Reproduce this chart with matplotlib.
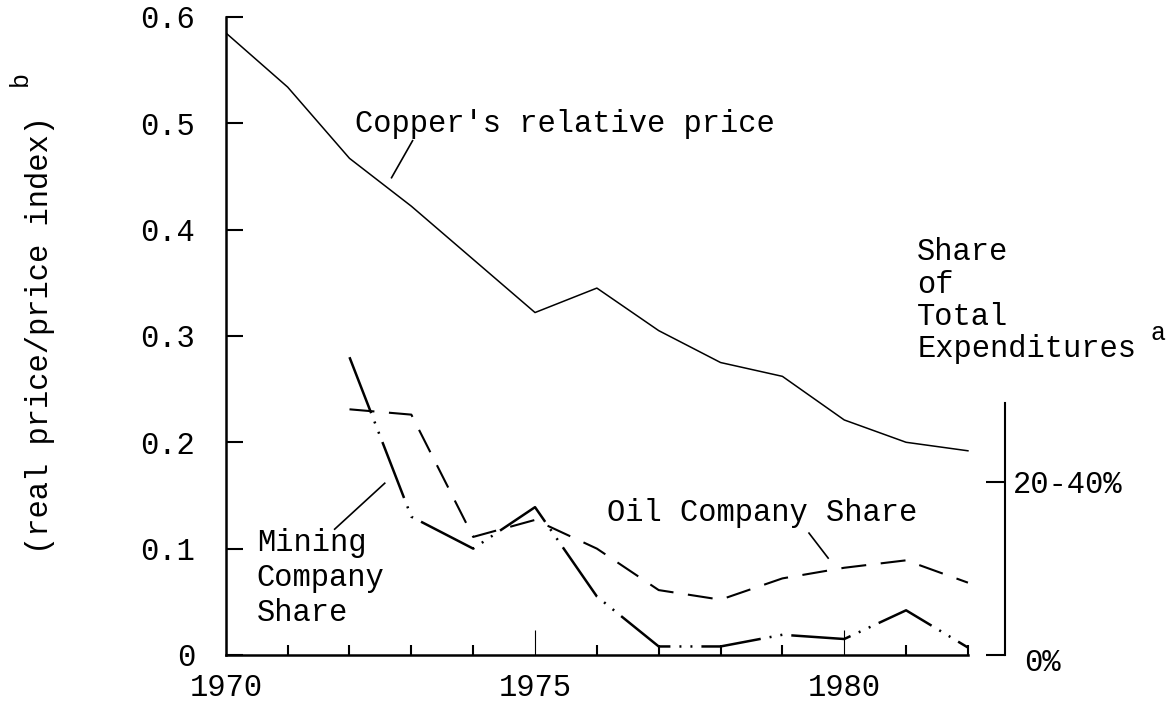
import numpy as np
import matplotlib
matplotlib.use('Agg')
import matplotlib.pyplot as plt

# values
years = np.arange(1970, 1983)
copper = [0.585, 0.534, 0.467, 0.422, 0.372, 0.322, 0.345, 0.305, 0.275, 0.262, 0.221, 0.200, 0.192]

share_years = np.arange(1972, 1983)
mining = [0.280, 0.130, 0.100, 0.139, 0.055, 0.008, 0.008, 0.019, 0.015, 0.042, 0.007]
oil = [0.231, 0.226, 0.111, 0.127, 0.100, 0.061, 0.052, 0.072, 0.082, 0.089, 0.068]

share_ticks = [0, 0.163]
share_labels = ['', '20-40%']

plt.rcParams['font.family'] = ['Liberation Mono', 'DejaVu Sans Mono']
fs = 22

fig = plt.figure(figsize=(11.7, 7.02), dpi=100)
ax = fig.add_axes([0.193, 0.067, 0.666, 0.918])

ax.plot(years, copper, color='black', lw=1.1)
ax.plot(share_years, oil, color='black', lw=1.5, linestyle=(0, (12, 7)))
ax.plot(share_years, mining, color='black', lw=1.8,
        linestyle=(0, (24, 3.6, 0.8, 3.6, 0.8, 3.6)))

ax.set_xlim(1970, 1982.6)
ax.set_ylim(0, 0.606)

ax.spines['top'].set_visible(False)
ax.spines['right'].set_visible(False)
ax.spines['left'].set_linewidth(1.8)
ax.spines['bottom'].set_linewidth(1.8)
ax.spines['left'].set_bounds(0, 0.6)
ax.spines['bottom'].set_bounds(1970, 1982)

ax.set_yticks([0, 0.1, 0.2, 0.3, 0.4, 0.5, 0.6])
ax.set_yticklabels(['0', '0.1', '0.2', '0.3', '0.4', '0.5', '0.6'])
ax.tick_params(axis='y', direction='in', length=12, width=1.5, pad=22, labelsize=fs)
ax.yaxis.get_major_ticks()[0].tick1line.set_visible(False)

ax.set_xticks([1970, 1975, 1980])
ax.set_xticklabels(['1970', '1975', '1980'])
ax.set_xticks(years, minor=True)
ax.tick_params(axis='x', which='major', direction='in', length=18, width=0.8, pad=13, labelsize=fs)
ax.tick_params(axis='x', which='minor', direction='in', length=7, width=1.5)

# right-hand share axis
ax2 = ax.twinx()
ax2.set_ylim(ax.get_ylim())
for s in ['top', 'left', 'bottom']:
    ax2.spines[s].set_visible(False)
ax2.spines['right'].set_bounds(0, 0.237)
ax2.spines['right'].set_linewidth(1.5)
ax2.set_yticks(share_ticks)
ax2.set_yticklabels(share_labels)
ax2.tick_params(axis='y', direction='in', length=14, width=1.5, pad=6, labelsize=fs)
ax2.text(1.025, -0.012, '0%', transform=ax2.transAxes, fontsize=fs, ha='left', va='center')

# annotations
ax.text(1972.09, 0.4995, "Copper's relative price", fontsize=fs, ha='left', va='center')
ax.plot([1973.02, 1972.68], [0.4836, 0.4488], color='black', lw=1.2)

ax.text(1970.5, 0.0723, 'Mining\nCompany\nShare', fontsize=fs, ha='left', va='center', linespacing=1.2)
ax.plot([1972.57, 1971.76], [0.1615, 0.1183], color='black', lw=1.2)

ax.text(1976.16, 0.1333, 'Oil Company Share', fontsize=fs, ha='left', va='center')
ax.plot([1979.43, 1979.74], [0.1146, 0.0911], color='black', lw=1.2)

ax.text(1981.18, 0.333, 'Share\nof\nTotal\nExpenditures', fontsize=fs, ha='left',
        va='center', linespacing=1.1, clip_on=False)
fig.text(1158 / 1170, 1 - 333 / 702, 'a', fontsize=18, ha='center', va='center')

fig.text(40 / 1170, 1 - 335 / 702, '(real price/price index)', fontsize=fs,
         rotation=90, ha='center', va='center')
fig.text(20 / 1170, 1 - 79 / 702, 'b', fontsize=18, rotation=90, ha='center', va='center')

plt.savefig('out.png', dpi=100)
